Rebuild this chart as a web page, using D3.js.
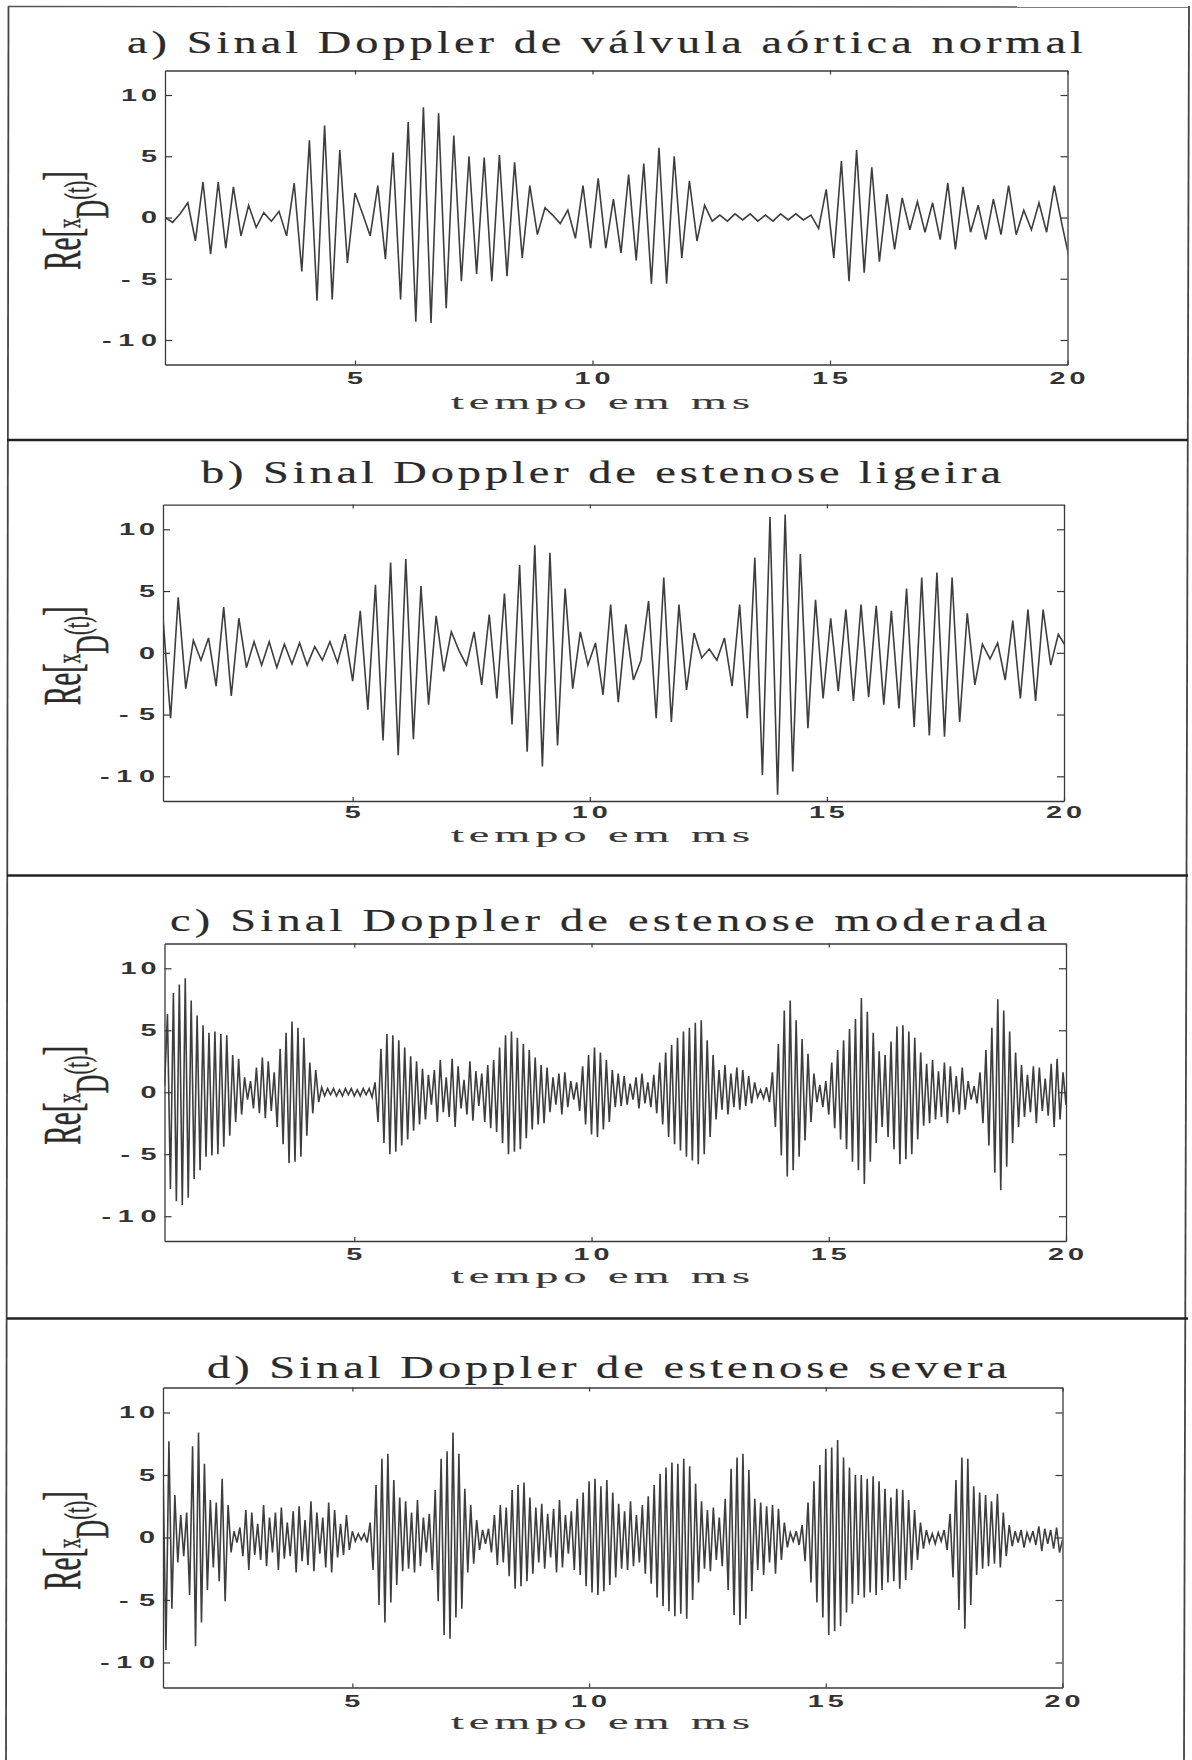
<!DOCTYPE html>
<html>
<head>
<meta charset="utf-8">
<script src="https://cdnjs.cloudflare.com/ajax/libs/d3/7.8.5/d3.min.js"></script>
<style>
  html, body { margin: 0; padding: 0; background: #fff; }
  svg { display: block; }
</style>
</head>
<body>
<div id="mainContainer"></div>
<script>
'use strict';

var svgWidth = 1192,
    svgHeight = 1760;

// ---------- data ----------
var titles = [
    'a) Sinal Doppler de válvula aórtica normal',
    'b) Sinal Doppler de estenose ligeira',
    'c) Sinal Doppler de estenose moderada',
    'd) Sinal Doppler de estenose severa'
];
var xLabel = 'tempo em ms';
var xTicks = [5, 10, 15, 20];
var yTicks = [-10, -5, 0, 5, 10];
var xDomain = [1, 20];
var yDomain = [-12, 12];

// samples start at t = 1 ms
var tStart = 1;
var stepSlow = 0.16;    // a, b
var stepFast = 0.0625;  // c, d

// a) normal, one value every 0.16 ms
var normal = [
    0.0, -0.4, 0.3, 1.2, -1.9, 2.9, -3.0, 2.9, -2.5, 2.5, -1.5, 1.0, -0.8, 0.4, -0.3, 0.5,
    -1.5, 2.8, -4.4, 6.3, -6.8, 7.5, -6.7, 5.5, -3.7, 2.0, 0.3, -1.5, 2.6, -3.4, 5.3, -6.7,
    7.8, -8.5, 9.0, -8.6, 8.5, -7.4, 6.7, -5.2, 5.0, -4.6, 4.9, -5.2, 5.1, -4.8, 4.5, -3.3,
    2.6, -1.4, 0.8, 0.2, -0.5, 0.6, -1.7, 2.6, -2.5, 3.2, -2.5, 1.5, -2.9, 3.5, -3.5, 4.4,
    -5.4, 5.7, -5.4, 5.0, -3.3, 3.0, -1.9, 1.0, -0.3, 0.2, -0.3, 0.3, -0.2, 0.3, -0.3, 0.2,
    -0.3, 0.3, -0.2, 0.3, -0.2, 0.2, -0.9, 2.3, -3.3, 4.6, -5.2, 5.5, -4.5, 4.1, -3.6, 1.9,
    -2.6, 1.6, -1.0, 1.3, -1.2, 1.2, -1.8, 2.8, -2.6, 2.5, -1.2, 1.0, -1.8, 1.5, -1.4, 2.6,
    -1.4, 0.6, -1.0, 1.2, -1.2, 2.6, -0.5, -3.4
];

// b) estenose ligeira, one value every 0.16 ms
var ligeira = [
    2.8, -5.3, 4.5, -2.9, 1.0, -0.6, 1.2, -2.7, 3.7, -3.5, 2.8, -1.2, 0.9, -1.0, 0.9, -1.2,
    0.7, -0.9, 0.8, -1.0, 0.5, -0.6, 0.9, -0.8, 1.5, -2.3, 3.4, -4.6, 5.5, -7.1, 7.3, -8.3,
    7.6, -7.0, 5.4, -4.2, 3.0, -1.5, 1.7, 0.2, -1.0, 1.7, -2.6, 3.1, -3.7, 4.8, -5.8, 7.1,
    -8.0, 8.7, -9.2, 8.1, -7.5, 5.2, -2.9, 1.7, -1.0, 0.8, -3.4, 3.9, -4.0, 2.3, -2.2, -0.6,
    4.2, -5.3, 6.1, -5.6, 3.9, -3.0, 1.6, -0.4, 0.3, -0.6, 1.2, -2.7, 3.9, -5.3, 7.7, -9.9,
    11.0, -11.5, 11.2, -9.6, 8.0, -6.1, 4.3, -3.7, 2.8, -3.1, 3.5, -3.9, 3.9, -3.6, 3.8, -4.2,
    3.4, -4.5, 5.2, -6.0, 6.1, -6.7, 6.5, -6.8, 6.1, -5.6, 3.2, -2.6, 0.7, -0.5, 0.8, -2.2,
    2.6, -3.7, 3.5, -3.9, 3.5, -1.0, 1.5, 0.5
];

// c) estenose moderada, one value every 0.0625 ms (one row per ms)
var moderada = [
    0.5, 6.3, -7.8, 8.0, -8.8, 8.7, -9.1, 9.2, -8.5, 7.4, -7.0, 6.2, -6.3, 5.4, -5.2, 4.8,
    -5.1, 4.9, -5.0, 4.7, -4.4, 4.6, -3.5, 3.0, -2.4, 2.7, -1.8, 1.2, -0.6, 0.9, -1.3, 2.0,
    -1.7, 2.8, -2.1, 2.5, -1.5, 1.6, -2.8, 3.5, -4.2, 4.8, -5.7, 5.7, -5.6, 5.2, -5.2, 4.4,
    -3.5, 2.4, -1.7, 1.8, -0.8, 0.4, -0.3, 0.3, -0.2, 0.3, -0.3, 0.2, -0.3, 0.3, -0.2, 0.3,
    -0.3, 0.2, -0.3, 0.3, -0.2, 0.3, -0.4, 0.8, -2.4, 3.5, -4.1, 4.7, -5.0, 4.6, -4.8, 4.2,
    -4.3, 3.6, -3.8, 2.9, -3.1, 2.5, -2.6, 1.9, -2.2, 1.4, -1.0, 1.8, -2.4, 2.6, -1.6, 1.2,
    -2.0, 2.7, -2.8, 2.1, -1.3, 1.0, -1.8, 2.5, -2.3, 1.7, -1.1, 1.5, -2.4, 2.2, -2.9, 2.6,
    -3.2, 3.6, -4.1, 4.6, -5.0, 4.9, -4.8, 4.4, -4.6, 3.9, -3.7, 3.4, -3.0, 2.8, -2.6, 2.2,
    -2.5, 2.0, -1.6, 1.2, -1.0, 1.5, -1.8, 1.6, -1.2, 0.9, -0.6, 0.8, -1.5, 2.1, -2.6, 3.0,
    -3.4, 3.6, -3.6, 3.2, -3.0, 2.6, -2.4, 1.8, -1.2, 1.5, -1.1, 1.3, -1.0, 0.7, -0.6, 1.2,
    -1.3, 1.5, -0.9, 0.8, -1.2, 1.4, -1.7, 2.4, -2.6, 3.2, -3.6, 3.8, -4.2, 4.4, -4.7, 4.9,
    -5.2, 5.2, -5.5, 5.6, -5.8, 5.8, -5.0, 4.2, -3.6, 3.0, -2.2, 1.8, -1.4, 2.2, -1.8, 1.5,
    -1.2, 2.0, -1.4, 1.8, -1.1, 1.3, -0.9, 0.8, -0.4, 0.2, -0.5, 0.4, -0.8, 1.6, -2.8, 3.9,
    -5.1, 6.6, -6.8, 7.4, -6.3, 5.8, -5.2, 4.3, -3.9, 3.1, -2.4, 1.5, -0.8, 0.6, -1.2, 0.9,
    -1.8, 2.4, -2.9, 3.4, -3.8, 4.2, -4.6, 5.1, -5.6, 5.9, -6.3, 7.6, -7.4, 6.5, -5.6, 4.8,
    -4.1, 3.3, -2.8, 3.0, -3.6, 4.1, -4.6, 5.3, -5.8, 5.4, -5.4, 4.9, -5.0, 4.4, -3.8, 3.2,
    -2.7, 2.3, -2.5, 2.6, -2.2, 1.7, -2.0, 2.4, -2.5, 2.1, -1.6, 1.3, -1.8, 2.0, -1.4, 0.9,
    -0.6, 0.5, -0.9, 1.6, -2.5, 3.4, -4.3, 5.2, -6.5, 7.5, -7.9, 6.6, -6.0, 4.9, -4.1, 3.2,
    -2.8, 2.2, -2.0, 1.4, -1.6, 2.1, -2.5, 2.0, -1.5, 1.1, -1.9, 2.3, -2.8, 2.7, -2.2, 1.6,
    -1.0
];

// d) estenose severa, one value every 0.0625 ms (one row per ms)
var severa = [
    5.5, -9.0, 7.7, -5.7, 3.4, -2.0, 1.8, -1.5, 2.0, -4.6, 7.3, -8.7, 8.4, -6.8, 5.9, -4.2,
    3.0, -2.4, 2.8, -3.5, 4.7, -5.1, 2.6, -1.2, 0.5, -0.4, 0.8, -1.5, 2.2, -2.6, 2.0, -1.4,
    1.1, -1.8, 2.6, -2.3, 1.6, -1.2, 2.0, -2.6, 2.4, -1.7, 1.2, -1.5, 2.1, -2.8, 2.5, -1.9,
    1.4, -2.2, 2.9, -2.7, 2.0, -1.3, 1.6, -2.4, 2.8, -2.8, 2.2, -1.6, 1.1, -1.4, 1.8, -1.0,
    0.5, -0.3, 0.3, -0.2, 0.3, -0.4, 1.2, -2.6, 4.2, -5.4, 6.3, -6.8, 6.7, -5.2, 4.6, -3.8,
    3.2, -2.7, 2.9, -2.5, 2.0, -2.8, 3.0, -2.3, 1.6, -1.2, 1.9, -2.6, 3.8, -5.1, 6.3, -7.8,
    6.9, -8.1, 8.4, -6.4, 6.7, -5.7, 3.9, -2.8, 2.6, -2.1, 1.4, -1.0, 0.6, -0.5, 0.7, -1.2,
    1.8, -2.2, 2.6, -2.0, 2.4, -3.1, 3.8, -4.1, 4.2, -3.9, 4.4, -3.5, 3.2, -2.9, 2.4, -2.0,
    2.7, -2.5, 1.9, -1.6, 2.3, -2.8, 3.0, -2.4, 1.8, -1.3, 2.1, -2.6, 3.1, -3.0, 3.6, -3.9,
    4.5, -4.4, 4.7, -4.6, 4.1, -4.3, 4.6, -3.8, 3.6, -3.2, 2.7, -2.5, 2.1, -2.6, 2.9, -2.3,
    1.8, -2.0, 2.6, -2.9, 3.3, -3.7, 4.2, -4.8, 5.1, -5.5, 5.6, -5.9, 6.0, -6.3, 5.9, -6.1,
    6.3, -6.5, 5.7, -5.0, 4.3, -3.6, 2.9, -2.5, 2.2, -2.7, 2.4, -1.8, 1.6, -2.3, 3.1, -4.2,
    5.5, -6.2, 6.4, -7.0, 6.7, -6.5, 5.4, -4.3, 3.1, -2.6, 2.8, -3.0, 2.5, -2.0, 2.6, -2.9,
    2.3, -1.8, 1.2, -0.8, 0.4, -0.3, 0.5, -0.6, 1.0, -1.9, 2.8, -3.6, 4.5, -5.2, 5.8, -6.4,
    7.1, -7.8, 7.2, -7.5, 7.8, -7.1, 6.4, -6.0, 5.6, -5.3, 5.0, -4.6, 5.0, -4.8, 4.7, -4.4,
    4.9, -4.6, 4.5, -4.2, 3.9, -3.6, 3.2, -3.5, 3.9, -4.1, 3.8, -3.4, 3.0, -2.6, 2.2, -1.8,
    1.2, -0.9, 0.6, -0.4, 0.3, -0.5, 0.4, -0.3, 0.6, -1.0, 1.9, -3.2, 4.6, -5.8, 6.4, -7.3,
    6.3, -5.4, 4.1, -3.0, 3.6, -2.5, 3.4, -2.3, 2.9, -2.1, 3.5, -2.4, 2.0, -1.5, 1.0, -0.7,
    0.5, -0.4, 0.6, -0.8, 0.4, -0.3, 0.5, -0.6, 0.9, -1.1, 0.7, -0.5, 0.6, -0.9, 0.8, -1.2,
    -0.2
];

// ---------- layout (scanned page is slightly skewed, so each panel has its own box) ----------
var panels = [
    { id: 'a', values: normal,   step: stepSlow, left: 165,   right: 1067.5, top: 70.5,   bottom: 364.5,  titleX: 127, titleY: 53,   titleW: 956, tickGap: 19, xLabY: 409 },
    { id: 'b', values: ligeira,  step: stepSlow, left: 163,   right: 1064,   top: 504.6,  bottom: 801,    titleX: 201, titleY: 483,  titleW: 800, tickGap: 17, xLabY: 842 },
    { id: 'c', values: moderada, step: stepFast, left: 164.5, right: 1066,   top: 943.5,  bottom: 1241,   titleX: 170, titleY: 931,  titleW: 877, tickGap: 19, xLabY: 1283 },
    { id: 'd', values: severa,   step: stepFast, left: 163,   right: 1062.5, top: 1387.5, bottom: 1687.5, titleX: 207, titleY: 1378, titleW: 800, tickGap: 19, xLabY: 1729 }
];

var ink = '#2a2a2a',
    serif = '"Liberation Serif", "Times New Roman", serif',
    sans = '"Liberation Sans", Arial, sans-serif';

var svg = d3.select('#mainContainer')
    .append('svg')
    .attr('width', svgWidth)
    .attr('height', svgHeight);

svg.append('rect')
    .attr('width', svgWidth)
    .attr('height', svgHeight)
    .attr('fill', '#fff');

var defs = svg.append('defs');

// text drawn with an extended look: glyphs widened by sx, spacing fills the width
function wideText(parent, x, y, str, o) {
    var t = parent.append('g')
        .attr('transform', 'translate(' + x + ',' + y + ') scale(' + o.sx + ',1)')
        .append('text')
        .attr('text-anchor', o.anchor || 'start')
        .attr('font-family', o.family)
        .attr('font-size', o.size)
        .attr('font-weight', o.weight || 'normal')
        .attr('fill', o.fill || ink)
        .attr('stroke', o.fill || ink)
        .attr('stroke-width', o.stroke || 0)
        .text(str);
    if (o.width && str.length > 1) {
        t.attr('textLength', o.width / o.sx).attr('lengthAdjust', 'spacing');
    }
    return t;
}

function tickText(v) { return String(v); }

// outer frame and separators
var frame = svg.append('g').attr('fill', 'none');
frame.append('line').attr('x1', 8).attr('y1', 6.5).attr('x2', 1189).attr('y2', 7)
    .attr('stroke', '#555').attr('stroke-width', 1.4);
frame.append('line').attr('x1', 8.5).attr('y1', 6).attr('x2', 6).attr('y2', svgHeight)
    .attr('stroke', '#444').attr('stroke-width', 1.8);
frame.append('line').attr('x1', 1189).attr('y1', 6).attr('x2', 1184).attr('y2', svgHeight)
    .attr('stroke', '#444').attr('stroke-width', 1.8);
[440, 875.5, 1318.5].forEach(function (sy) {
    frame.append('line').attr('x1', 7).attr('y1', sy).attr('x2', 1188).attr('y2', sy)
        .attr('stroke', '#222').attr('stroke-width', 2.6);
});

function styleAxis(sel) {
    sel.select('.domain').attr('stroke', '#3a3a3a').attr('stroke-width', 1.3);
    sel.selectAll('.tick line').attr('stroke', '#3a3a3a').attr('stroke-width', 1.2);
    sel.selectAll('.tick text').remove();
}

panels.forEach(function (p, k) {
    var x = d3.scaleLinear().domain(xDomain).range([p.left, p.right]),
        y = d3.scaleLinear().domain(yDomain).range([p.bottom, p.top]);

    var g = svg.append('g').attr('id', 'panel-' + p.id);

    defs.append('clipPath').attr('id', 'clip-' + p.id)
        .append('rect')
        .attr('x', p.left)
        .attr('y', p.top)
        .attr('width', p.right - p.left)
        .attr('height', p.bottom - p.top);

    //signal
    var line = d3.line()
        .x(function (d, i) { return x(tStart + i * p.step); })
        .y(function (d) { return y(d); });

    g.append('path')
        .datum(p.values)
        .attr('clip-path', 'url(#clip-' + p.id + ')')
        .attr('d', line)
        .attr('fill', 'none')
        .attr('stroke', '#3e3e3e')
        .attr('stroke-width', 1.6);

    //box with inward ticks on all four sides
    g.append('g').attr('transform', 'translate(0,' + p.bottom + ')')
        .call(d3.axisBottom(x).tickValues(xTicks).tickSizeInner(-4).tickSizeOuter(0))
        .call(styleAxis);
    g.append('g').attr('transform', 'translate(0,' + p.top + ')')
        .call(d3.axisTop(x).tickValues(xTicks).tickSizeInner(-4).tickSizeOuter(0))
        .call(styleAxis);
    g.append('g').attr('transform', 'translate(' + p.left + ',0)')
        .call(d3.axisLeft(y).tickValues(yTicks).tickSizeInner(-7).tickSizeOuter(0))
        .call(styleAxis);
    g.append('g').attr('transform', 'translate(' + p.right + ',0)')
        .call(d3.axisRight(y).tickValues(yTicks).tickSizeInner(-7).tickSizeOuter(0))
        .call(styleAxis);

    //tick labels
    xTicks.forEach(function (v) {
        var s = tickText(v);
        wideText(g, x(v), p.bottom + p.tickGap, s,
            { sx: 1.8, size: 16, weight: 'bold', fill: '#333', family: sans, anchor: 'middle', width: s.length * 19 - 2 });
    });
    yTicks.forEach(function (v) {
        var s = tickText(v);
        wideText(g, p.left - 8, y(v) + 5.8, s,
            { sx: 1.8, size: 16, weight: 'bold', fill: '#333', family: sans, anchor: 'end', width: s.length * 19 - 2 });
    });

    //title and x label
    wideText(g, p.titleX, p.titleY, titles[k],
        { sx: 1.45, size: 32, stroke: 0.2, family: serif, anchor: 'start', width: p.titleW });
    wideText(g, 451, p.xLabY, xLabel,
        { sx: 2.1, size: 22, stroke: 0.15, fill: '#383838', family: serif, anchor: 'start', width: 299 });

    //y label Re[x_D(t)]
    var lab = g.append('g')
        .attr('transform', 'translate(80,' + (y(0) + 3) + ') rotate(-90) scale(0.56,1)')
        .append('text')
        .attr('text-anchor', 'middle')
        .attr('font-family', serif)
        .attr('fill', ink)
        .attr('stroke', ink)
        .attr('stroke-width', 0.5);
    lab.append('tspan').attr('font-size', 52).text('Re[');
    lab.append('tspan').attr('font-size', 34).text('x');
    lab.append('tspan').attr('font-size', 46).attr('dy', 28).text('D');
    lab.append('tspan').attr('font-size', 36).attr('dy', -19).text('(t)');
    lab.append('tspan').attr('font-size', 52).attr('dy', -9).text(']');
});
</script>
</body>
</html>
